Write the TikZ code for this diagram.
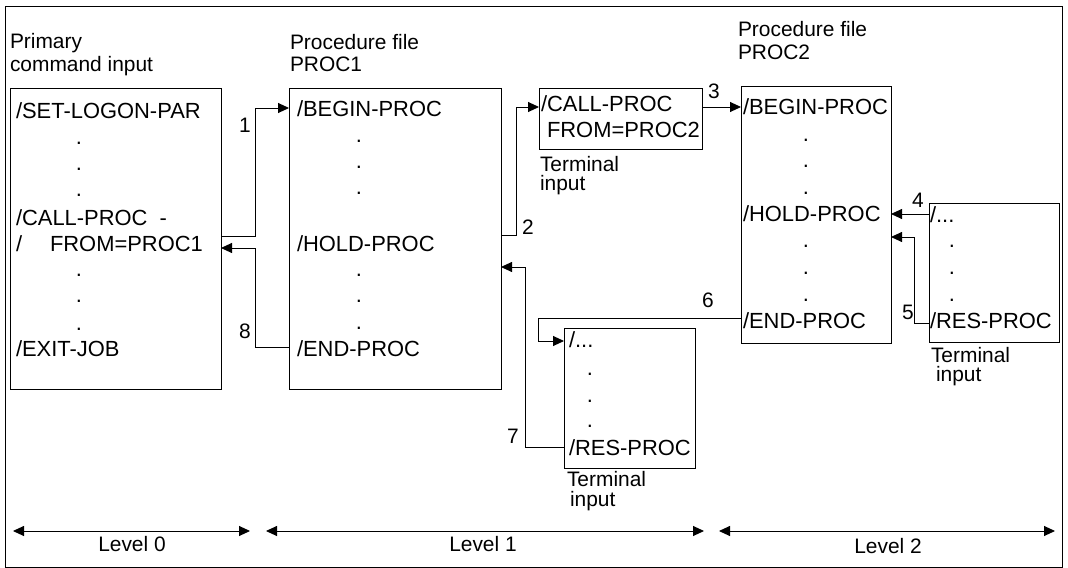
\documentclass[tikz,border=0pt]{standalone}
\usepackage{fontspec}
\setmainfont{Liberation Sans}
\usetikzlibrary{arrows.meta}
\begin{document}
\begin{tikzpicture}[x=1bp,y=-1bp,
  every node/.style={inner sep=0pt, outer sep=0pt, font=\fontsize{21pt}{25pt}\selectfont},
  txt/.style={anchor=base west},
  ctr/.style={anchor=base},
  code/.style={font=\fontsize{22pt}{26pt}\selectfont},
  box/.style={draw, line width=0.9bp, anchor=north west},
  conn/.style={line width=0.9bp},
  arr/.style={conn, -{Triangle[length=11bp,width=10bp]}},
  lvl/.style={conn, {Triangle[length=11bp,width=10bp]}-{Triangle[length=11bp,width=10bp]}}]
\useasboundingbox (0,0) rectangle (1068,568);
\node[box, minimum width=1057bp, minimum height=561bp] (frame) at (5,6) {};

% boxes
\node[box, minimum width=211bp, minimum height=301bp] (b0) at (10,88) {};
\node[box, minimum width=212bp, minimum height=301bp] (b1) at (289,88) {};
\node[box, minimum width=163bp, minimum height=61bp] (t1) at (539,88) {};
\node[box, minimum width=150bp, minimum height=257bp] (b2) at (741,86) {};
\node[box, minimum width=130bp, minimum height=139bp] (t2) at (929,203) {};
\node[box, minimum width=131bp, minimum height=140bp] (t3) at (564,328) {};

% headings
\node[txt] (h0a) at (10,49) {Primary};
\node[txt] (h0b) at (10,72) {command input};
\node[txt] (h1a) at (290,50) {Procedure file};
\node[txt] (h1b) at (290,72) {PROC1};
\node[txt] (h2a) at (738,37) {Procedure file};
\node[txt] (h2b) at (738,60) {PROC2};
\node[txt] (ti1a) at (540,172) {Terminal};
\node[txt] (ti1b) at (540,191) {input};
\node[txt] (ti2a) at (931,362) {Terminal};
\node[txt] (ti2b) at (936,381) {input};
\node[txt] (ti3a) at (567,486) {Terminal};
\node[txt] (ti3b) at (570,506) {input};

% box 0
\node[txt,code] (s0) at (16,119) {/SET-LOGON-PAR};
\node[ctr,code] (d0a) at (79,145) {.};
\node[ctr,code] (d0b) at (79,171) {.};
\node[ctr,code] (d0c) at (79,197) {.};
\node[txt,code] (c0) at (16,226) {/CALL-PROC\ \ -};
\node[txt,code] (c0s) at (16,252) {/};
\node[txt,code] (c0f) at (50,252) {FROM=PROC1};
\node[ctr,code] (d0d) at (79,277) {.};
\node[ctr,code] (d0e) at (79,303) {.};
\node[ctr,code] (d0f) at (79,330) {.};
\node[txt,code] (e0) at (16,356) {/EXIT-JOB};

% box 1
\node[txt,code] (bg1) at (297,117) {/BEGIN-PROC};
\node[ctr,code] (d1a) at (359,143) {.};
\node[ctr,code] (d1b) at (359,169) {.};
\node[ctr,code] (d1c) at (359,195) {.};
\node[txt,code] (hd1) at (297,252) {/HOLD-PROC};
\node[ctr,code] (d1d) at (359,277) {.};
\node[ctr,code] (d1e) at (359,303) {.};
\node[ctr,code] (d1f) at (359,329) {.};
\node[txt,code] (en1) at (297,356) {/END-PROC};

% terminal 1
\node[txt,code] (tc1) at (541,112) {/CALL-PROC};
\node[txt,code] (tf1) at (547,138) {FROM=PROC2};

% box 2
\node[txt,code] (bg2) at (743,115) {/BEGIN-PROC};
\node[ctr,code] (d2a) at (806,142) {.};
\node[ctr,code] (d2b) at (806,168) {.};
\node[ctr,code] (d2c) at (806,195) {.};
\node[txt,code] (hd2) at (743,222) {/HOLD-PROC};
\node[ctr,code] (d2d) at (806,248) {.};
\node[ctr,code] (d2e) at (806,275) {.};
\node[ctr,code] (d2f) at (806,302) {.};
\node[txt,code] (en2) at (743,328) {/END-PROC};

% terminal 2
\node[txt,code] (x2) at (930,223) {/...};
\node[ctr,code] (d3a) at (952,248) {.};
\node[ctr,code] (d3b) at (952,275) {.};
\node[ctr,code] (d3c) at (952,302) {.};
\node[txt,code] (r2) at (930,328) {/RES-PROC};

% terminal 3
\node[txt,code] (x3) at (569,347) {/...};
\node[ctr,code] (d4a) at (590,375) {.};
\node[ctr,code] (d4b) at (590,402) {.};
\node[ctr,code] (d4c) at (590,427) {.};
\node[txt,code] (r3) at (569,455) {/RES-PROC};

% numbers
\node[ctr] (n1) at (245,133) {1};
\node[ctr] (n8) at (245,338) {8};
\node[ctr] (n2) at (528,235) {2};
\node[ctr] (n3) at (714,99) {3};
\node[ctr] (n6) at (708,308) {6};
\node[ctr] (n7) at (513,443) {7};
\node[ctr] (n4) at (918,208) {4};
\node[ctr] (n5) at (908,320) {5};

% connectors
\draw[arr] (b0.east |- 0,236) -- (255,236) |- (b1.west |- 0,108);
\draw[arr] (b1.west |- 0,347) -- (255,347) |- (b0.east |- 0,248);
\draw[arr] (b1.east |- 0,235) -- (516,235) |- (t1.west |- 0,107);
\draw[arr] (t1.east |- 0,107) -- (b2.west |- 0,107);
\draw[arr] (b2.west |- 0,318) -- (538,318) |- (t3.west |- 0,341);
\draw[arr] (t3.west |- 0,447) -- (525,447) |- (b1.east |- 0,267);
\draw[arr] (t2.west |- 0,214) -- (b2.east |- 0,214);
\draw[arr] (t2.west |- 0,323) -- (914,323) |- (b2.east |- 0,237);

% levels
\coordinate (l0a) at (13,531);
\coordinate (l0b) at (250,531);
\coordinate (l1a) at (266,531);
\coordinate (l1b) at (704,531);
\coordinate (l2a) at (719,531);
\coordinate (l2b) at (1055,531);
\draw[lvl] (l0a) -- (l0b);
\draw[lvl] (l1a) -- (l1b);
\draw[lvl] (l2a) -- (l2b);
\node[ctr] (lv0) at (132,551) {Level 0};
\node[ctr] (lv1) at (483,551) {Level 1};
\node[ctr] (lv2) at (888,553) {Level 2};
\end{tikzpicture}
\end{document}
